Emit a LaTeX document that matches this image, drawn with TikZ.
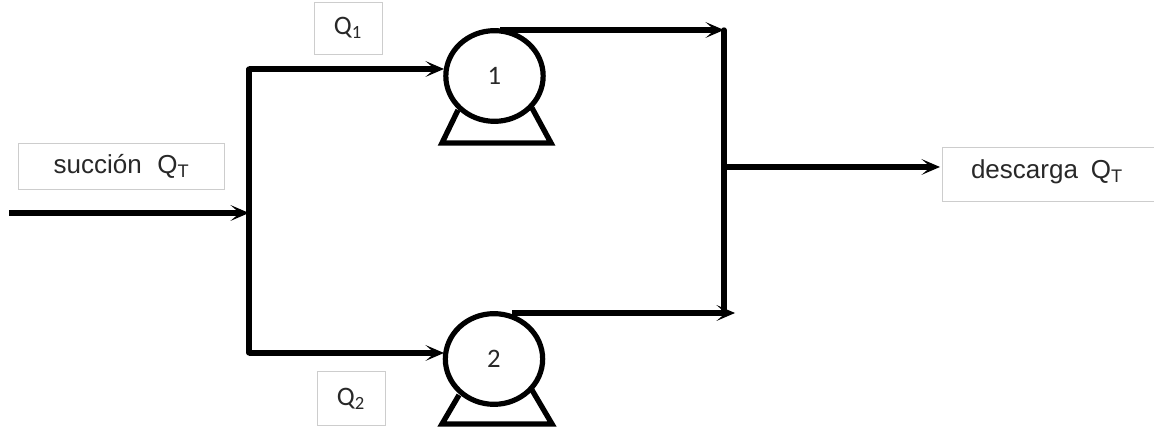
\documentclass[tikz,border=0pt]{standalone}
\usepackage{fontspec}
\setmainfont{Liberation Sans}
\newfontfamily\calfont{Carlito}
\usetikzlibrary{arrows.meta,shapes.geometric}
\definecolor{boxgray}{RGB}{205,205,205}
\definecolor{txt}{RGB}{40,40,40}
\tikzset{
  x=0.75pt,y=-0.75pt,
  pipe/.style={line width=4pt,black,line cap=round},
  flow/.style={pipe,line cap=butt,-{Stealth[length=14pt,width=12pt,inset=7pt,line width=0pt]}},
  pump/.style={ellipse,draw=black,line width=3.9pt,minimum width=73pt,minimum height=68pt,inner sep=0pt,text=txt,font=\calfont\fontsize{20}{22}\selectfont},
  base/.style={line width=4pt,black,line join=miter},
  label/.style={draw=boxgray,line width=0.7pt,fill=white,text=txt,inner sep=0pt,anchor=center},
  sans/.style={font=\fontsize{19.5}{22}\selectfont},
  cali/.style={font=\calfont\fontsize{20}{22}\selectfont},
}
\begin{document}
\begin{tikzpicture}
\useasboundingbox (0,0) rectangle (1154,427);
\clip (0,0) rectangle (1154,427);
% labels
\node[label,sans,minimum width=155pt,minimum height=34.5pt] (suc) at (121.5,166) {\raisebox{-5.6pt}[0pt][0pt]{\makebox[0pt]{succión\hspace{0.6em}Q\textsubscript{T}}}};
\node[label,sans,minimum width=165pt,minimum height=40pt] (des) at (1052,174.5) {\raisebox{-2.8pt}[0pt][0pt]{\makebox[0pt]{\hspace*{-7.5pt}descarga\hspace{0.5em}Q\textsubscript{T}}}};
\node[label,cali,minimum width=51pt,minimum height=39pt] (q1) at (348,28) {\raisebox{-5pt}[0pt][0pt]{\makebox[0pt]{Q\textsubscript{1}}}};
\node[label,cali,minimum width=51pt,minimum height=40pt] (q2) at (351,398.5) {Q\textsubscript{2}};
% pumps
\node[pump] (p1) at (494.5,76) {1};
\node[pump] (p2) at (494,359) {2};
% bases
\coordinate (b1a) at (458,110); \coordinate (b1b) at (442,143);
\coordinate (b1c) at (551,143); \coordinate (b1d) at (532,108);
\coordinate (b2a) at (459,395); \coordinate (b2b) at (442,424);
\coordinate (b2c) at (552,424); \coordinate (b2d) at (532,390);
\draw[base] (b1a) -- (b1b) -- (b1c) -- (b1d);
\draw[base] (b2a) -- (b2b) -- (b2c) -- (b2d);
% junctions
\coordinate (start) at (9,213);
\coordinate (inj) at (249,213);
\coordinate (top) at (249,69);
\coordinate (bot) at (249,353);
\coordinate (in1) at (444,69);
\coordinate (in2) at (444,353);
\coordinate (o1) at (500,30);
\coordinate (o2) at (512,313);
\coordinate (t1) at (724,30);
\coordinate (t2) at (735,313);
\coordinate (r1) at (724,30);
\coordinate (r2) at (724,313);
\coordinate (mid) at (724,167);
\coordinate (end) at (940,167);
% pipes
\draw[pipe] (top) -- (bot);
\draw[pipe] (r1) -- (r2);
\draw[flow] (start) -- (inj);
\draw[flow] (top) -- (in1);
\draw[flow] (bot) -- (in2);
\draw[flow] (o1) -- (t1);
\draw[flow] (o2) -- (t2);
\draw[flow] (mid) -- (end);
\end{tikzpicture}
\end{document}
